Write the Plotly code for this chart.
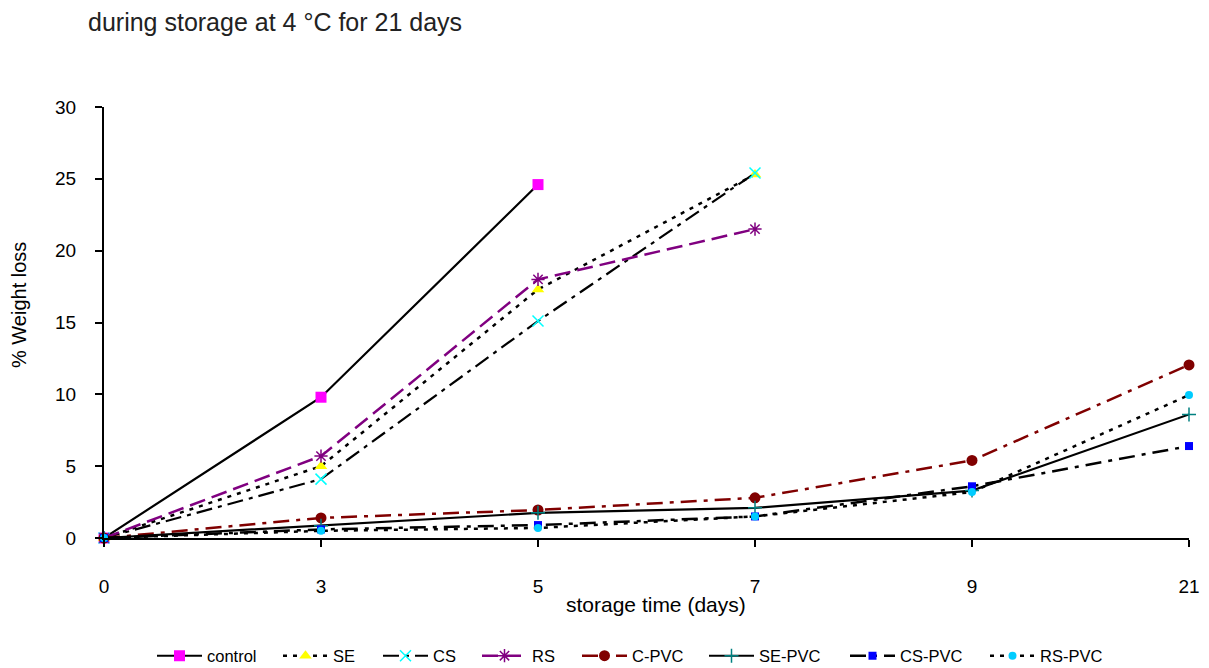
import plotly.graph_objects as go

days = ["0", "3", "5", "7", "9", "21"]

control = [0, 9.8, 24.6]
se = [0, 5.0, 17.3, 25.3]
cs = [0, 4.1, 15.1, 25.4]
rs = [0, 5.7, 18.0, 21.5]
c_pvc = [0, 1.4, 1.95, 2.8, 5.4, 12.05]
se_pvc = [0, 0.85, 1.75, 2.1, 3.3, 8.6]
cs_pvc = [0, 0.6, 0.9, 1.5, 3.6, 6.4]
rs_pvc = [0, 0.5, 0.7, 1.5, 3.2, 9.95]

series = [
    ("control", control, "black", "solid", "square", "#FF00FF", 11, 2.2),
    ("SE", se, "black", "4px,6px", "triangle-up", "#FFFF00", 11, 2.5),
    ("CS", cs, "black", "16px,6px,4px,6px", "x-thin-open", "#00FFFF", 11, 2.2),
    ("RS", rs, "#800080", "16px,7px", "asterisk-open", "#800080", 11, 2.5),
    ("C-PVC", c_pvc, "#800000", "16px,7px,4px,7px", "circle", "#800000", 11, 2.5),
    ("SE-PVC", se_pvc, "black", "solid", "cross-thin-open", "#008080", 10, 2.2),
    ("CS-PVC", cs_pvc, "black", "16px,7px,4px,7px", "square", "#0000FF", 8, 2.5),
    ("RS-PVC", rs_pvc, "black", "4px,6px", "circle", "#00CCFF", 8, 2.5),
]

# legend entry left positions (pixels) in the reference
legend_px = [157, 283, 383, 482, 582, 709, 850, 990]
W, H = 1209, 668
PLOT_TOP, PLOT_BOTTOM = 107, 538
L, R, T, B = 104, 20, PLOT_TOP, H - PLOT_BOTTOM
pw, ph = W - L - R, PLOT_BOTTOM - PLOT_TOP


def py(pix):
    return (PLOT_BOTTOM - pix) / ph


def px(pix):
    return (pix - L) / pw


fig = go.Figure()
layout_legends = {}
for i, (name, vals, lc, dash, sym, mc, ms, lw) in enumerate(series):
    marker = dict(symbol=sym, size=ms, color=mc)
    if sym.endswith("open"):
        marker["line"] = dict(color=mc, width=1.5)
    lg = "legend" if i == 0 else f"legend{i+1}"
    fig.add_trace(go.Scatter(
        x=days[:len(vals)], y=vals, name=name, mode="lines+markers",
        line=dict(color=lc, width=lw, dash=dash),
        marker=marker, cliponaxis=False, legend=lg,
    ))
    layout_legends[lg] = dict(
        x=px(legend_px[i] - 5), xanchor="left",
        y=py(656), yanchor="middle",
        orientation="h", font=dict(size=16.5), itemwidth=45,
        bgcolor="rgba(0,0,0,0)",
    )

fig.update_layout(
    width=W, height=H,
    margin=dict(l=L, r=R, t=T, b=B, autoexpand=False),
    paper_bgcolor="white", plot_bgcolor="white",
    font=dict(family="Arial, Liberation Sans, sans-serif", size=19, color="black"),
    showlegend=True,
    annotations=[
        dict(text="during storage at 4 °C for 21 days", xref="paper", yref="paper",
             x=px(86), y=py(22), xanchor="left", yanchor="middle",
             showarrow=False, font=dict(size=25, color="#222")),
        dict(text="storage time (days)", xref="paper", yref="paper",
             x=px(656), y=py(604), xanchor="center", yanchor="middle",
             showarrow=False, font=dict(size=21)),
        dict(text="% Weight loss", xref="paper", yref="paper",
             x=px(19), y=py(305), xanchor="center", yanchor="middle", textangle=-90,
             showarrow=False, font=dict(size=20)),
    ],
    **layout_legends,
)
fig.update_xaxes(
    type="category", categoryorder="array", categoryarray=days,
    range=[0, 5], showgrid=False, zeroline=False, automargin=False,
    showline=True, linecolor="black", linewidth=2,
    ticks="outside", ticklen=7, tickwidth=2, tickcolor="black",
    ticklabelstandoff=23,
)
fig.update_yaxes(
    range=[0, 30], dtick=5, showgrid=False, zeroline=False, automargin=False,
    showline=True, linecolor="black", linewidth=2,
    ticks="outside", ticklen=7, tickwidth=2, tickcolor="black",
    ticklabelstandoff=15,
)

fig.write_html(
    "out.html",
    config={"displayModeBar": False},
    post_script="document.body.style.margin='0px';document.body.style.overflow='hidden';",
)
